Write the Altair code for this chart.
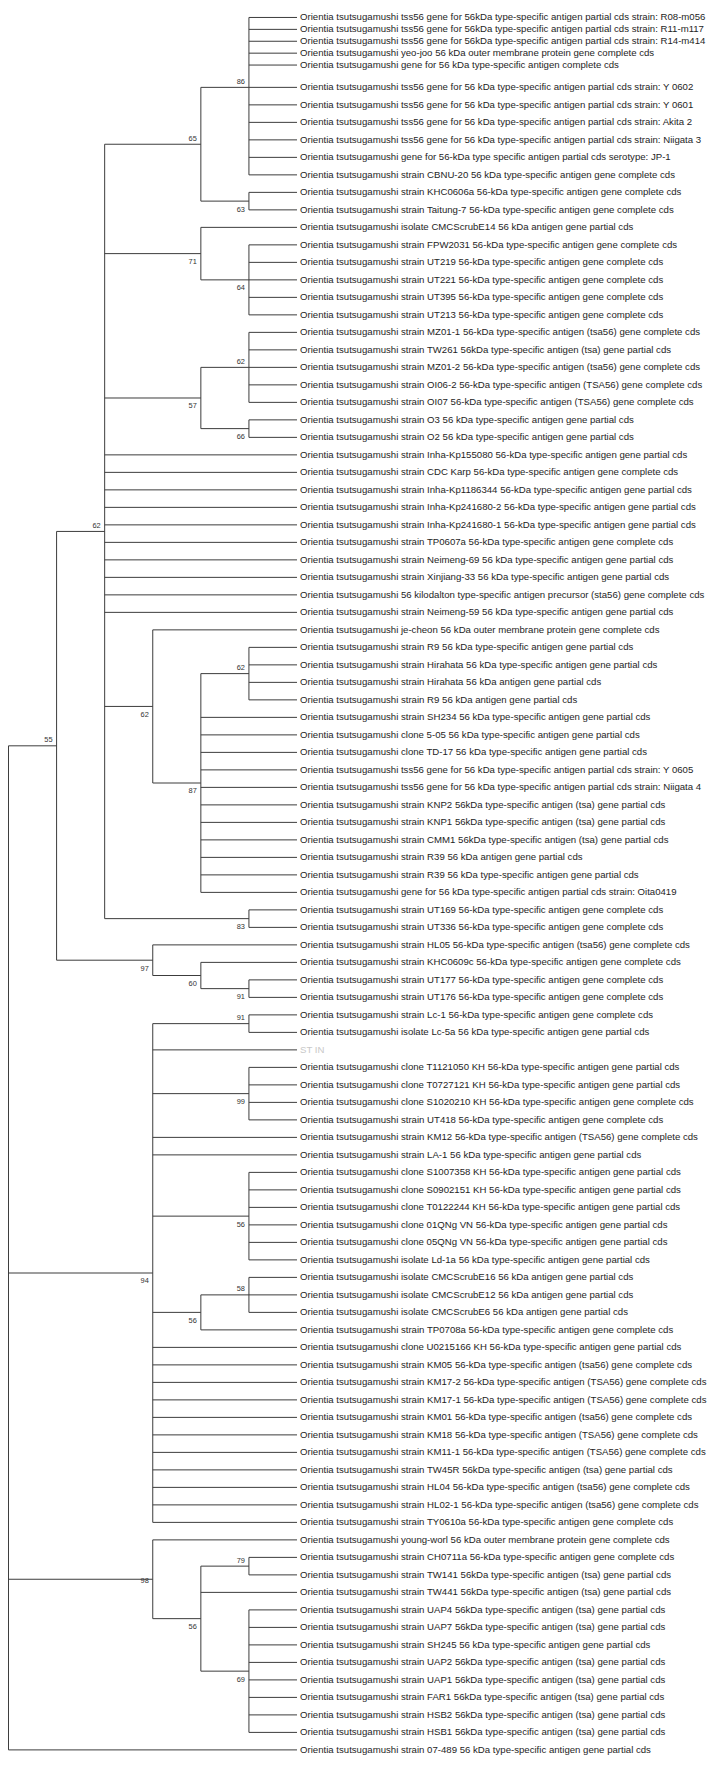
import altair as alt
import pandas as pd

P = "Orientia tsutsugamushi "
leaf_labels = [
    P + "tss56 gene for 56kDa type-specific antigen partial cds strain: R08-m056",
    P + "tss56 gene for 56kDa type-specific antigen partial cds strain: R11-m117",
    P + "tss56 gene for 56kDa type-specific antigen partial cds strain: R14-m414",
    P + "yeo-joo 56 kDa outer membrane protein gene complete cds",
    P + "gene for 56 kDa type-specific antigen complete cds",
    P + "tss56 gene for 56 kDa type-specific antigen partial cds strain: Y 0602",
    P + "tss56 gene for 56 kDa type-specific antigen partial cds strain: Y 0601",
    P + "tss56 gene for 56 kDa type-specific antigen partial cds strain: Akita 2",
    P + "tss56 gene for 56 kDa type-specific antigen partial cds strain: Niigata 3",
    P + "gene for 56-kDa type specific antigen partial cds serotype: JP-1",
    P + "strain CBNU-20 56 kDa type-specific antigen gene complete cds",
    P + "strain KHC0606a 56-kDa type-specific antigen gene complete cds",
    P + "strain Taitung-7 56-kDa type-specific antigen gene complete cds",
    P + "isolate CMCScrubE14 56 kDa antigen gene partial cds",
    P + "strain FPW2031 56-kDa type-specific antigen gene complete cds",
    P + "strain UT219 56-kDa type-specific antigen gene complete cds",
    P + "strain UT221 56-kDa type-specific antigen gene complete cds",
    P + "strain UT395 56-kDa type-specific antigen gene complete cds",
    P + "strain UT213 56-kDa type-specific antigen gene complete cds",
    P + "strain MZ01-1 56-kDa type-specific antigen (tsa56) gene complete cds",
    P + "strain TW261 56kDa type-specific antigen (tsa) gene partial cds",
    P + "strain MZ01-2 56-kDa type-specific antigen (tsa56) gene complete cds",
    P + "strain OI06-2 56-kDa type-specific antigen (TSA56) gene complete cds",
    P + "strain OI07 56-kDa type-specific antigen (TSA56) gene complete cds",
    P + "strain O3 56 kDa type-specific antigen gene partial cds",
    P + "strain O2 56 kDa type-specific antigen gene partial cds",
    P + "strain Inha-Kp155080 56-kDa type-specific antigen gene partial cds",
    P + "strain CDC Karp 56-kDa type-specific antigen gene complete cds",
    P + "strain Inha-Kp1186344 56-kDa type-specific antigen gene partial cds",
    P + "strain Inha-Kp241680-2 56-kDa type-specific antigen gene partial cds",
    P + "strain Inha-Kp241680-1 56-kDa type-specific antigen gene partial cds",
    P + "strain TP0607a 56-kDa type-specific antigen gene complete cds",
    P + "strain Neimeng-69 56 kDa type-specific antigen gene partial cds",
    P + "strain Xinjiang-33 56 kDa type-specific antigen gene partial cds",
    P + "56 kilodalton type-specific antigen precursor (sta56) gene complete cds",
    P + "strain Neimeng-59 56 kDa type-specific antigen gene partial cds",
    P + "je-cheon 56 kDa outer membrane protein gene complete cds",
    P + "strain R9 56 kDa type-specific antigen gene partial cds",
    P + "strain Hirahata 56 kDa type-specific antigen gene partial cds",
    P + "strain Hirahata 56 kDa antigen gene partial cds",
    P + "strain R9 56 kDa antigen gene partial cds",
    P + "strain SH234 56 kDa type-specific antigen gene partial cds",
    P + "clone 5-05 56 kDa type-specific antigen gene partial cds",
    P + "clone TD-17 56 kDa type-specific antigen gene partial cds",
    P + "tss56 gene for 56 kDa type-specific antigen partial cds strain: Y 0605",
    P + "tss56 gene for 56 kDa type-specific antigen partial cds strain: Niigata 4",
    P + "strain KNP2 56kDa type-specific antigen (tsa) gene partial cds",
    P + "strain KNP1 56kDa type-specific antigen (tsa) gene partial cds",
    P + "strain CMM1 56kDa type-specific antigen (tsa) gene partial cds",
    P + "strain R39 56 kDa antigen gene partial cds",
    P + "strain R39 56 kDa type-specific antigen gene partial cds",
    P + "gene for 56 kDa type-specific antigen partial cds strain: Oita0419",
    P + "strain UT169 56-kDa type-specific antigen gene complete cds",
    P + "strain UT336 56-kDa type-specific antigen gene complete cds",
    P + "strain HL05 56-kDa type-specific antigen (tsa56) gene complete cds",
    P + "strain KHC0609c 56-kDa type-specific antigen gene complete cds",
    P + "strain UT177 56-kDa type-specific antigen gene complete cds",
    P + "strain UT176 56-kDa type-specific antigen gene complete cds",
    P + "strain Lc-1 56-kDa type-specific antigen gene complete cds",
    P + "isolate Lc-5a 56 kDa type-specific antigen gene partial cds",
    "ST IN",
    P + "clone T1121050 KH 56-kDa type-specific antigen gene partial cds",
    P + "clone T0727121 KH 56-kDa type-specific antigen gene partial cds",
    P + "clone S1020210 KH 56-kDa type-specific antigen gene complete cds",
    P + "strain UT418 56-kDa type-specific antigen gene complete cds",
    P + "strain KM12 56-kDa type-specific antigen (TSA56) gene complete cds",
    P + "strain LA-1 56 kDa type-specific antigen gene partial cds",
    P + "clone S1007358 KH 56-kDa type-specific antigen gene partial cds",
    P + "clone S0902151 KH 56-kDa type-specific antigen gene partial cds",
    P + "clone T0122244 KH 56-kDa type-specific antigen gene partial cds",
    P + "clone 01QNg VN 56-kDa type-specific antigen gene partial cds",
    P + "clone 05QNg VN 56-kDa type-specific antigen gene partial cds",
    P + "isolate Ld-1a 56 kDa type-specific antigen gene partial cds",
    P + "isolate CMCScrubE16 56 kDa antigen gene partial cds",
    P + "isolate CMCScrubE12 56 kDa antigen gene partial cds",
    P + "isolate CMCScrubE6 56 kDa antigen gene partial cds",
    P + "strain TP0708a 56-kDa type-specific antigen gene complete cds",
    P + "clone U0215166 KH 56-kDa type-specific antigen gene partial cds",
    P + "strain KM05 56-kDa type-specific antigen (tsa56) gene complete cds",
    P + "strain KM17-2 56-kDa type-specific antigen (TSA56) gene complete cds",
    P + "strain KM17-1 56-kDa type-specific antigen (TSA56) gene complete cds",
    P + "strain KM01 56-kDa type-specific antigen (tsa56) gene complete cds",
    P + "strain KM18 56-kDa type-specific antigen (TSA56) gene complete cds",
    P + "strain KM11-1 56-kDa type-specific antigen (TSA56) gene complete cds",
    P + "strain TW45R 56kDa type-specific antigen (tsa) gene partial cds",
    P + "strain HL04 56-kDa type-specific antigen (tsa56) gene complete cds",
    P + "strain HL02-1 56-kDa type-specific antigen (tsa56) gene complete cds",
    P + "strain TY0610a 56-kDa type-specific antigen gene complete cds",
    P + "young-worl 56 kDa outer membrane protein gene complete cds",
    P + "strain CH0711a 56-kDa type-specific antigen gene complete cds",
    P + "strain TW141 56kDa type-specific antigen (tsa) gene partial cds",
    P + "strain TW441 56kDa type-specific antigen (tsa) gene partial cds",
    P + "strain UAP4 56kDa type-specific antigen (tsa) gene partial cds",
    P + "strain UAP7 56kDa type-specific antigen (tsa) gene partial cds",
    P + "strain SH245 56 kDa type-specific antigen gene partial cds",
    P + "strain UAP2 56kDa type-specific antigen (tsa) gene partial cds",
    P + "strain UAP1 56kDa type-specific antigen (tsa) gene partial cds",
    P + "strain FAR1 56kDa type-specific antigen (tsa) gene partial cds",
    P + "strain HSB2 56kDa type-specific antigen (tsa) gene partial cds",
    P + "strain HSB1 56kDa type-specific antigen (tsa) gene partial cds",
    P + "strain 07-489 56 kDa type-specific antigen gene partial cds",
]
assert len(leaf_labels) == 101

# leaves shown in light grey
grey_leaves = ["ST IN"]


def N(support, *children, pos=None):
    return {"s": support, "c": list(children), "pos": pos}


# Bootstrap consensus topology: leaves are indices into leaf_labels
tree = N(None,
         N(55,
           N(62,
             N(65, N(86, *range(0, 11)), N(63, 11, 12)),
             N(71, 13, N(64, *range(14, 19))),
             N(57, N(62, *range(19, 24)), N(66, 24, 25)),
             *range(26, 36),
             N(62, 36, N(87, N(62, *range(37, 41)), *range(41, 52))),
             N(83, 52, 53)),
           N(97, 54, N(60, 55, N(91, 56, 57)))),
         N(94, N(91, 58, 59), 60, N(99, *range(61, 65)), 65, 66,
           N(56, *range(67, 73)), N(56, N(58, 73, 74, 75), 76), *range(77, 88)),
         N(98, 88, N(56, N(79, 89, 90), 91, N(69, *range(92, 100))), pos="on"),
         100)


# ---- cladogram layout (tips aligned) ----
def height(n):
    if isinstance(n, int):
        return 0
    return 1 + max(height(c) for c in n["c"])


def ypos(n):
    if isinstance(n, int):
        return float(n)
    return (ypos(n["c"][0]) + ypos(n["c"][-1])) / 2.0


H = height(tree)
segs, boots = [], []


def walk(n):
    if isinstance(n, int):
        return
    x = H - height(n)
    ys = [ypos(c) for c in n["c"]]
    segs.append({"x": x, "x2": x, "y": ys[0], "y2": ys[-1]})
    for i, c in enumerate(n["c"]):
        cx = H - height(c)
        cy = ypos(c)
        segs.append({"x": x, "x2": cx, "y": cy, "y2": cy})
        if not isinstance(c, int) and c["s"] is not None:
            pos = c["pos"] or ("above" if i == 0 else "below")
            boots.append({"x": cx, "y": cy, "t": str(c["s"]), "pos": pos})
        walk(c)


walk(tree)

seg_df = pd.DataFrame(segs)
boot_df = pd.DataFrame(boots)
leaf_df = pd.DataFrame({
    "x": [H] * len(leaf_labels),
    "y": list(range(len(leaf_labels))),
    "label": leaf_labels,
    "color": ["#c8c8c8" if l in grey_leaves else "#1e1e1e" for l in leaf_labels],
})

xs = alt.Scale(domain=[0, H], range=[0.5, 291.5], nice=False, zero=False)
ys = alt.Scale(domain=[0, 4, 5, 100], range=[2, 50, 72.5, 1749.3], nice=False, zero=False)
X = alt.X("x:Q", scale=xs, axis=None)
Y = alt.Y("y:Q", scale=ys, axis=None)

branches = alt.Chart(seg_df).mark_rule(color="#3a3a3a", strokeWidth=1).encode(
    x=X, x2="x2:Q", y=Y, y2="y2:Q")

leaves = alt.Chart(leaf_df).mark_text(
    align="left", baseline="middle", dx=3, fontSize=9.7, font="Liberation Sans"
).encode(x=X, y=Y, text="label:N", color=alt.Color("color:N", scale=None))


def boot_layer(pos, dy):
    return alt.Chart(boot_df[boot_df.pos == pos]).mark_text(
        align="right", baseline="middle", dx=-4, dy=dy, fontSize=7.5,
        font="Liberation Sans", color="#333333"
    ).encode(x=X, y=Y, text="t:N")


chart = alt.layer(
    branches, leaves,
    boot_layer("above", -5.5), boot_layer("below", 8.5), boot_layer("on", 1.5),
).properties(
    width=705, height=1758,
    autosize=alt.AutoSizeParams(type="none"),
    padding=0,
).configure_view(stroke=None)

chart.save("out.html", embed_options={"renderer": "svg", "actions": False})
